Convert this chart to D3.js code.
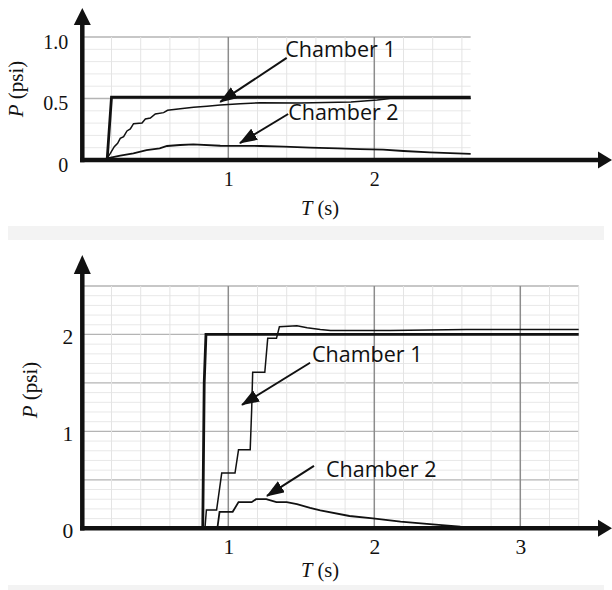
<!DOCTYPE html>
<html>
<head>
<meta charset="utf-8">
<script src="https://cdn.jsdelivr.net/npm/d3@7"></script>
<style>
  body { margin: 0; background: #fff; }
  svg { display: block; }
</style>
</head>
<body>
<div id="chart"></div>
<script>
//////////////////////////////////////////////
// Data //////////////////////////////////////
//////////////////////////////////////////////
// values, T in s, P in psi

// top panel
var topTicksX = [1, 2];
var topTicksY = [0, 0.5, 1.0];
var topTickLabelsY = ["0", "0.5", "1.0"];

var topSupplyT = [0, 0.17, 0.2, 2.66];
var topSupplyP = [0, 0, 0.51, 0.51];

var topChamber1T = [0.169, 0.192, 0.219, 0.242, 0.26, 0.283, 0.306, 0.329, 0.351, 0.409, 0.432, 0.466, 0.5, 0.557, 0.584, 0.671, 0.762, 0.854, 0.945, 1.082, 1.219, 1.49, 1.84, 2.02, 2.11, 2.66];
var topChamber1P = [0.014, 0.054, 0.108, 0.136, 0.176, 0.19, 0.236, 0.252, 0.295, 0.301, 0.333, 0.341, 0.374, 0.385, 0.404, 0.417, 0.428, 0.437, 0.447, 0.458, 0.465, 0.463, 0.472, 0.488, 0.5, 0.5];

var topChamber2T = [0.169, 0.26, 0.35, 0.44, 0.53, 0.58, 0.67, 0.76, 0.945, 1.22, 1.38, 1.56, 1.75, 1.9, 2.06, 2.2, 2.38, 2.66];
var topChamber2P = [0.014, 0.035, 0.054, 0.081, 0.095, 0.114, 0.122, 0.127, 0.116, 0.114, 0.108, 0.1, 0.095, 0.089, 0.085, 0.073, 0.062, 0.049];

// bottom panel
var bottomTicksX = [1, 2, 3];
var bottomTicksY = [0, 1, 2];
var bottomTickLabelsY = ["0", "1", "2"];

var bottomSupplyT = [0, 0.825, 0.835, 0.847, 3.4];
var bottomSupplyP = [0, 0, 1.5, 2.0, 2.0];

var bottomChamber1T = [0.84, 0.85, 0.92, 0.955, 1.046, 1.07, 1.15, 1.16, 1.167, 1.25, 1.27, 1.33, 1.35, 1.47, 1.54, 1.63, 1.7, 2.11, 2.63, 3.4];
var bottomChamber1P = [0, 0.19, 0.19, 0.57, 0.57, 0.81, 0.81, 1.22, 1.61, 1.61, 1.96, 1.96, 2.08, 2.09, 2.07, 2.05, 2.04, 2.04, 2.05, 2.05];

var bottomChamber2T = [0.925, 0.94, 1.03, 1.07, 1.16, 1.19, 1.26, 1.33, 1.4, 1.47, 1.56, 1.63, 1.83, 1.99, 2.18, 2.4, 2.59, 2.79, 3.4];
var bottomChamber2P = [0, 0.17, 0.17, 0.27, 0.27, 0.30, 0.30, 0.27, 0.27, 0.25, 0.21, 0.185, 0.127, 0.103, 0.068, 0.041, 0.017, 0.004, 0];

var chamberLabels = ["Chamber 1", "Chamber 2"];

function zip(ts, ps) {
  return ts.map(function(t, i) { return {t: t, p: ps[i]}; });
}

//////////////////////////////////////////////
// Chart Config /////////////////////////////
//////////////////////////////////////////////
var width = 612, height = 590;
var serif = "'Liberation Serif', 'Times New Roman', serif";
var sans = "'Open Sans', sans-serif";

var svg = d3.select("#chart").append("svg")
    .attr("width", width)
    .attr("height", height);

// light separator bands
svg.append("rect").attr("x", 8).attr("y", 226).attr("width", 596).attr("height", 14).attr("fill", "#f3f3f3");
svg.append("rect").attr("x", 8).attr("y", 585).attr("width", 596).attr("height", 5).attr("fill", "#f3f3f3");

var panels = [
  {
    yBase: 160, yTop: 37, pMax: 1.0, tMax: 2.66, arrowTip: 8, arrowBase: 25,
    ticksX: topTicksX, ticksY: topTicksY, labelsY: topTickLabelsY,
    yPad: 14, yDy: "0.55em", fontSize: 20,
    supply: zip(topSupplyT, topSupplyP),
    ch1: zip(topChamber1T, topChamber1P),
    ch2: zip(topChamber2T, topChamber2P),
    // label position (t, p) and arrow from/to in data units
    notes: [
      {text: chamberLabels[0], t: 1.39, p: 0.837, from: [1.40, 0.83], to: [0.945, 0.472]},
      {text: chamberLabels[1], t: 1.41, p: 0.325, from: [1.41, 0.374], to: [1.08, 0.138]}
    ],
    pLabel: {x: 23, y: 89}, tLabelY: 215
  },
  {
    yBase: 528.3, yTop: 286, pMax: 2.5, tMax: 3.4, arrowTip: 255, arrowBase: 274,
    ticksX: bottomTicksX, ticksY: bottomTicksY, labelsY: bottomTickLabelsY,
    yPad: 9, yDy: "0.42em", fontSize: 21.5,
    supply: zip(bottomSupplyT, bottomSupplyP),
    ch1: zip(bottomChamber1T, bottomChamber1P),
    ch2: zip(bottomChamber2T, bottomChamber2P),
    notes: [
      {text: chamberLabels[0], t: 1.573, p: 1.718, from: [1.56, 1.708], to: [1.094, 1.274]},
      {text: chamberLabels[1], t: 1.669, p: 0.53, from: [1.587, 0.644], to: [1.265, 0.334]}
    ],
    pLabel: {x: 37, y: 390}, tLabelY: 577
  }
];

var x0 = 82.3, pxPerSec = 146;

// arrow marker for the annotations
svg.append("defs").append("marker")
    .attr("id", "head")
    .attr("viewBox", "0 0 18 13")
    .attr("markerUnits", "userSpaceOnUse")
    .attr("markerWidth", 18)
    .attr("markerHeight", 13)
    .attr("refX", 17)
    .attr("refY", 6.5)
    .attr("orient", "auto")
  .append("path")
    .attr("d", "M0,0 L18,6.5 L0,13 Z")
    .attr("fill", "#111");

//////////////////////////////////////////////
// Drawing ///////////////////////////////////
//////////////////////////////////////////////
function drawPanel(cfg) {
  var xScale = d3.scaleLinear().domain([0, cfg.tMax]).range([x0, x0 + pxPerSec * cfg.tMax]);
  var yScale = d3.scaleLinear().domain([0, cfg.pMax]).range([cfg.yBase, cfg.yTop]);
  var g = svg.append("g");

  // grid
  var grid = g.append("g");
  d3.range(1, Math.round(cfg.pMax * 10) + 1).forEach(function(k) {
    var p = k / 10;
    var half = k % 5 == 0;
    grid.append("line")
      .attr("x1", x0).attr("x2", xScale(cfg.tMax))
      .attr("y1", yScale(p)).attr("y2", yScale(p))
      .attr("stroke", half ? "#b4b4b4" : "#e8e8e8")
      .attr("stroke-width", half ? 1.3 : 1);
  });
  d3.range(1, Math.floor(cfg.tMax * 5 + 1e-6) + 1).forEach(function(k) {
    var t = k / 5;
    var major = k % 5 == 0;
    grid.append("line")
      .attr("x1", xScale(t)).attr("x2", xScale(t))
      .attr("y1", cfg.yBase).attr("y2", cfg.yTop)
      .attr("stroke", major ? "#8c8c8c" : "#e4e4e4")
      .attr("stroke-width", major ? 1.5 : 1);
  });

  // curves
  var line = d3.line()
    .x(function(d) { return xScale(d.t); })
    .y(function(d) { return yScale(d.p); });

  g.append("path").datum(cfg.ch2).attr("d", line)
    .style("fill", "none").style("stroke", "#111").style("stroke-width", "1.8px");
  g.append("path").datum(cfg.ch1).attr("d", line)
    .style("fill", "none").style("stroke", "#111").style("stroke-width", "1.5px");
  g.append("path").datum(cfg.supply).attr("d", line)
    .style("fill", "none").style("stroke", "#111").style("stroke-width", "2.8px");

  // axes lines with arrow heads
  g.append("line")
    .attr("x1", x0).attr("x2", x0)
    .attr("y1", cfg.yBase + 2.2).attr("y2", cfg.arrowBase)
    .attr("stroke", "#111").attr("stroke-width", 4.5);
  g.append("path")
    .attr("d", "M" + (x0 - 8.5) + "," + cfg.arrowBase + " L" + x0 + "," + cfg.arrowTip + " L" + (x0 + 8.5) + "," + cfg.arrowBase + " Z")
    .attr("fill", "#111");
  g.append("line")
    .attr("x1", x0 - 2.2).attr("x2", 599)
    .attr("y1", cfg.yBase).attr("y2", cfg.yBase)
    .attr("stroke", "#111").attr("stroke-width", 4.5);
  g.append("path")
    .attr("d", "M598," + (cfg.yBase - 8.5) + " L612," + cfg.yBase + " L598," + (cfg.yBase + 8.5) + " Z")
    .attr("fill", "#111");

  // tick labels
  var yAxis = d3.axisLeft(yScale)
    .tickValues(cfg.ticksY)
    .tickFormat(function(d, i) { return cfg.labelsY[i]; })
    .tickSize(0)
    .tickPadding(cfg.yPad);
  var yAxisEl = g.append("g").attr("transform", "translate(" + x0 + ",0)").call(yAxis);
  yAxisEl.select(".domain").remove();
  yAxisEl.attr("font-family", serif).attr("font-size", cfg.fontSize);
  yAxisEl.selectAll("text").attr("dy", cfg.yDy).attr("fill", "#111");

  var xAxis = d3.axisBottom(xScale)
    .tickValues(cfg.ticksX)
    .tickFormat(d3.format("d"))
    .tickSize(0);
  var xAxisEl = g.append("g").attr("transform", "translate(0," + cfg.yBase + ")").call(xAxis);
  xAxisEl.select(".domain").remove();
  xAxisEl.attr("font-family", serif).attr("font-size", cfg.fontSize);
  xAxisEl.selectAll("text").attr("y", 26).attr("dy", null).attr("fill", "#111");

  // axis titles
  var tTitle = g.append("text")
    .attr("x", 320).attr("y", cfg.tLabelY)
    .attr("text-anchor", "middle")
    .attr("font-family", serif).attr("font-size", 20.5).attr("fill", "#111");
  tTitle.append("tspan").attr("font-style", "italic").text("T");
  tTitle.append("tspan").text(" (s)");

  var pTitle = g.append("text")
    .attr("transform", "translate(" + cfg.pLabel.x + "," + cfg.pLabel.y + ") rotate(-90)")
    .attr("text-anchor", "middle")
    .attr("font-family", serif).attr("font-size", 21).attr("fill", "#111");
  pTitle.append("tspan").attr("font-style", "italic").text("P");
  pTitle.append("tspan").text(" (psi)");

  // annotations
  cfg.notes.forEach(function(n) {
    g.append("line")
      .attr("x1", xScale(n.from[0])).attr("y1", yScale(n.from[1]))
      .attr("x2", xScale(n.to[0])).attr("y2", yScale(n.to[1]))
      .attr("stroke", "#111").attr("stroke-width", 2)
      .attr("marker-end", "url(#head)");
    g.append("text")
      .attr("x", xScale(n.t)).attr("y", yScale(n.p))
      .attr("font-family", sans).attr("font-size", 21.5).attr("fill", "#111")
      .text(n.text);
  });
}

panels.forEach(drawPanel);
</script>
</body>
</html>
